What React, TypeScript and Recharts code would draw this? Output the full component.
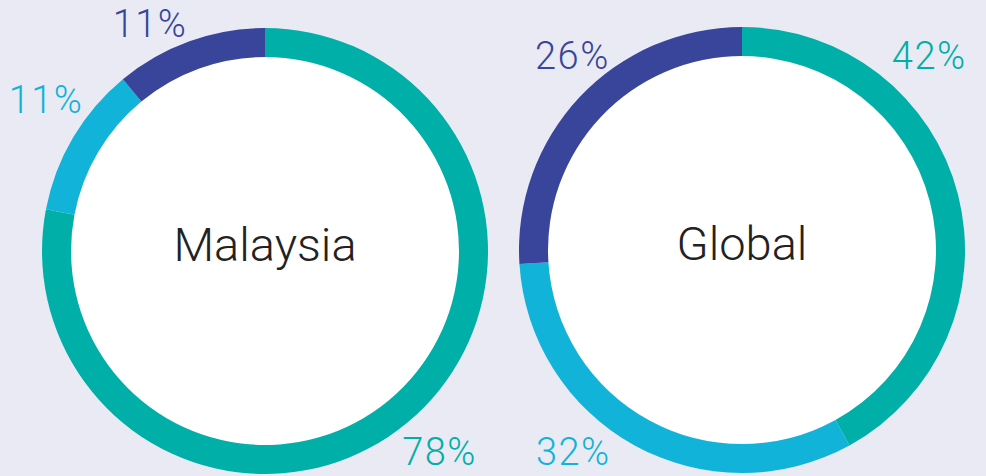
import { PieChart, Pie, Cell } from 'recharts'

// segment order: clockwise from 12 o'clock
const segments = ['Teal', 'Light blue', 'Dark blue']
const malaysiaValues = [78, 11, 11]
const globalValues = [42, 32, 26]
const regionNames = ['Malaysia', 'Global']

const COLORS = ['#00afa8', '#11b4d8', '#38459b']
const BG = '#eaeaf4'
const FONT = 'Roboto, "Noto Sans", sans-serif'

const OUTER = 223
const INNER = 194

// where each % label sits: degrees clockwise from top, distance from centre
const malaysiaLabelPos = [
  { angle: 139, r: 266 },
  { angle: 304.6, r: 266 },
  { angle: 333.2, r: 255 },
]
const globalLabelPos = [
  { angle: 43.9, r: 270 },
  { angle: 219.9, r: 263 },
  { angle: 318.9, r: 258 },
]

const toRows = (values: number[]) =>
  segments.map((name, i) => ({ name, value: values[i] }))

const makePercentLabel =
  (pos: { angle: number; r: number }[]) => (props: any) => {
    const { cx, cy, index, value } = props
    const p = pos[index]
    const rad = (p.angle * Math.PI) / 180
    const x = cx + p.r * Math.sin(rad)
    const y = cy - p.r * Math.cos(rad)
    return (
      <text
        x={x}
        y={y + 13.5}
        textAnchor="middle"
        fill={COLORS[index]}
        fontFamily={FONT}
        fontWeight={300}
        fontSize={38}
        letterSpacing={1.5}
      >
        {`${value}%`}
      </text>
    )
  }

const makeCenterLabel = (name: string) => (props: any) => {
  const { cx, cy } = props
  return (
    <text
      x={cx}
      y={cy + 10}
      textAnchor="middle"
      fill="#222"
      fontFamily={FONT}
      fontWeight={300}
      fontSize={47}
    >
      {name}
    </text>
  )
}

export default function App() {
  const charts = [
    { cx: 265, cy: 251, values: malaysiaValues, pos: malaysiaLabelPos, name: regionNames[0] },
    { cx: 742, cy: 250, values: globalValues, pos: globalLabelPos, name: regionNames[1] },
  ]
  return (
    <div style={{ position: 'absolute', left: 0, top: 0, width: 986, height: 476, background: BG }}>
      <PieChart width={986} height={476} margin={{ top: 0, right: 0, bottom: 0, left: 0 }}>
        {charts.map((c) => (
          <Pie
            key={`${c.name}-fill`}
            data={[{ name: c.name, value: 1 }]}
            dataKey="value"
            cx={c.cx}
            cy={c.cy}
            innerRadius={0}
            outerRadius={INNER}
            fill="#ffffff"
            stroke="none"
            isAnimationActive={false}
            label={makeCenterLabel(c.name)}
            labelLine={false}
          />
        ))}
        {charts.map((c) => (
          <Pie
            key={`${c.name}-ring`}
            data={toRows(c.values)}
            dataKey="value"
            cx={c.cx}
            cy={c.cy}
            innerRadius={INNER}
            outerRadius={OUTER}
            startAngle={90}
            endAngle={-270}
            stroke="none"
            isAnimationActive={false}
            label={makePercentLabel(c.pos)}
            labelLine={false}
          >
            {c.values.map((_, i) => (
              <Cell key={i} fill={COLORS[i]} />
            ))}
          </Pie>
        ))}
      </PieChart>
    </div>
  )
}
